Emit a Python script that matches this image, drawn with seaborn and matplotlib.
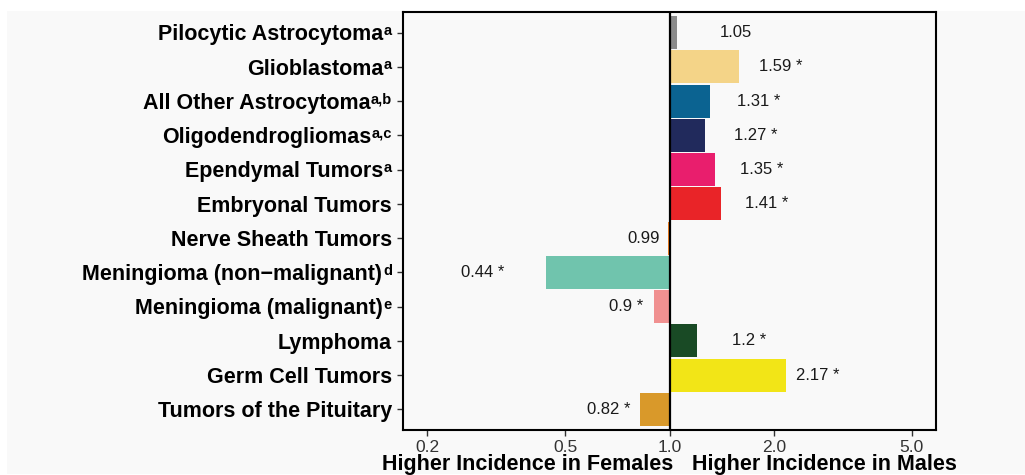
import numpy as np
import pandas as pd
import matplotlib
matplotlib.use("Agg")
import matplotlib.pyplot as plt
import seaborn as sns
from matplotlib.patches import Rectangle
from matplotlib.ticker import NullLocator
from matplotlib.transforms import blended_transform_factory, offset_copy

# ---------------- data ----------------
categories = [
    "Pilocytic Astrocytoma",
    "Glioblastoma",
    "All Other Astrocytoma",
    "Oligodendrogliomas",
    "Ependymal Tumors",
    "Embryonal Tumors",
    "Nerve Sheath Tumors",
    "Meningioma (non\u2212malignant)",
    "Meningioma (malignant)",
    "Lymphoma",
    "Germ Cell Tumors",
    "Tumors of the Pituitary",
]
footnotes = ["a", "a", "a,b", "a,c", "a", "", "", "d", "e", "", "", ""]
ratios = [1.05, 1.59, 1.31, 1.27, 1.35, 1.41, 0.99, 0.44, 0.90, 1.20, 2.17, 0.82]
significant = [False, True, True, True, True, True, False, True, True, True, True, True]
colors = [
    "#8a8a8a", "#f4d488", "#0b6391", "#212a5c", "#e91e6d", "#e92428",
    "#f58220", "#70c4ad", "#f09090", "#194a25", "#f2e517", "#d9992a",
]
x_ticks = [0.2, 0.5, 1.0, 2.0, 5.0]
x_tick_labels = ["0.2", "0.5", "1.0", "2.0", "5.0"]
left_title = "Higher Incidence in Females"
right_title = "Higher Incidence in Males"

# ---------------- style ----------------
sns.set_theme(style="white")
plt.rcParams["font.family"] = ["Liberation Sans", "DejaVu Sans"]

bg = "#f9f9f9"
W, H = 1025, 475
fig = plt.figure(figsize=(W / 100, H / 100), dpi=100, facecolor="white")
fig.patches.append(Rectangle((7 / W, 1 / H), 1 - 7 / W, 1 - 12 / H,
                             transform=fig.transFigure, facecolor=bg,
                             edgecolor="none", zorder=-10))
ax = fig.add_axes([403 / W, 1 - 430 / H, 533 / W, 418 / H])
ax.set_facecolor(bg)

df = pd.DataFrame({"category": categories, "ratio": ratios})
sns.barplot(data=df, y="category", x="ratio", hue="category",
            order=categories, hue_order=categories,
            palette=dict(zip(categories, colors)), orient="h",
            width=0.96, errorbar=None, legend=False, linewidth=0,
            saturation=1, dodge=False, ax=ax)

# bars start from ratio 1.0 (reference line) on a log axis
for p in ax.patches:
    idx = int(round(p.get_y() + p.get_height() / 2))
    v = ratios[idx]
    p.set_x(min(v, 1.0))
    p.set_width(abs(v - 1.0))

ax.set_xscale("log")
lo, hi = min(x_ticks), max(x_ticks)
pad = 0.05 * np.log10(hi / lo)
ax.set_xlim(lo * 10 ** (-pad), hi * 10 ** pad)
ax.set_ylim(len(categories) - 1 + 0.6, -0.6)

ax.axvline(1.0, color="black", lw=1.6, zorder=3)

# value labels
for i, (v, s) in enumerate(zip(ratios, significant)):
    txt = f"{v:g}" + (" *" if s else "")
    xpos = v + 0.5 if v > 1 else v - 0.15
    ax.text(xpos, i, txt, ha="center", va="center", fontsize=12,
            color="#1a1a1a")

# ticks
ax.set_xticks(x_ticks)
ax.set_xticklabels(x_tick_labels)
ax.xaxis.set_minor_locator(NullLocator())
ax.set_yticks(range(len(categories)))
ax.set_yticklabels([])
ax.tick_params(axis="both", which="major", length=4, width=1,
               color="#333333", direction="out", bottom=True, left=True)
ax.tick_params(axis="x", labelsize=12.5, labelcolor="#333333", pad=3)
ax.set_xlabel("")
ax.set_ylabel("")

for sp in ax.spines.values():
    sp.set_visible(True)
    sp.set_color("black")
    sp.set_linewidth(1.5)

# category labels with superscript footnotes, right-aligned next to ticks
ytrans = blended_transform_factory(ax.transAxes, ax.transData)
label_fs = 15.5
sup_fs = 10.5
cap_px = 0.716 * label_fs * 100 / 72
edge = 11  # px from axis to label right edge
sup_texts = []
for i, fn in enumerate(footnotes):
    if fn:
        t = fig.text(0, i, fn,
                     transform=offset_copy(ytrans, fig=fig, x=-edge,
                                           y=-cap_px / 2 + 5.5, units="dots"),
                     ha="right", va="baseline", fontsize=sup_fs,
                     fontweight="bold", color="black")
        sup_texts.append(t)
    else:
        sup_texts.append(None)

fig.canvas.draw()
renderer = fig.canvas.get_renderer()
for i, name in enumerate(categories):
    w = 0.0
    if sup_texts[i] is not None:
        w = sup_texts[i].get_window_extent(renderer).width + 0.5
    fig.text(0, i, name,
             transform=offset_copy(ytrans, fig=fig, x=-edge - w,
                                   y=-cap_px / 2, units="dots"),
             ha="right", va="baseline", fontsize=label_fs,
             fontweight="bold", color="black")

# bottom titles around the 1.0 line
trans = blended_transform_factory(ax.transData, fig.transFigure)
ybase = (H - 470) / H
fig.text(1.0, ybase, left_title,
         transform=offset_copy(trans, fig=fig, x=4, y=0, units="dots"),
         ha="right", va="baseline", fontsize=15.5, fontweight="bold",
         color="black")
fig.text(1.0, ybase, right_title,
         transform=offset_copy(trans, fig=fig, x=23, y=0, units="dots"),
         ha="left", va="baseline", fontsize=15.5, fontweight="bold",
         color="black")

fig.savefig("out.png", dpi=100, facecolor="white")
